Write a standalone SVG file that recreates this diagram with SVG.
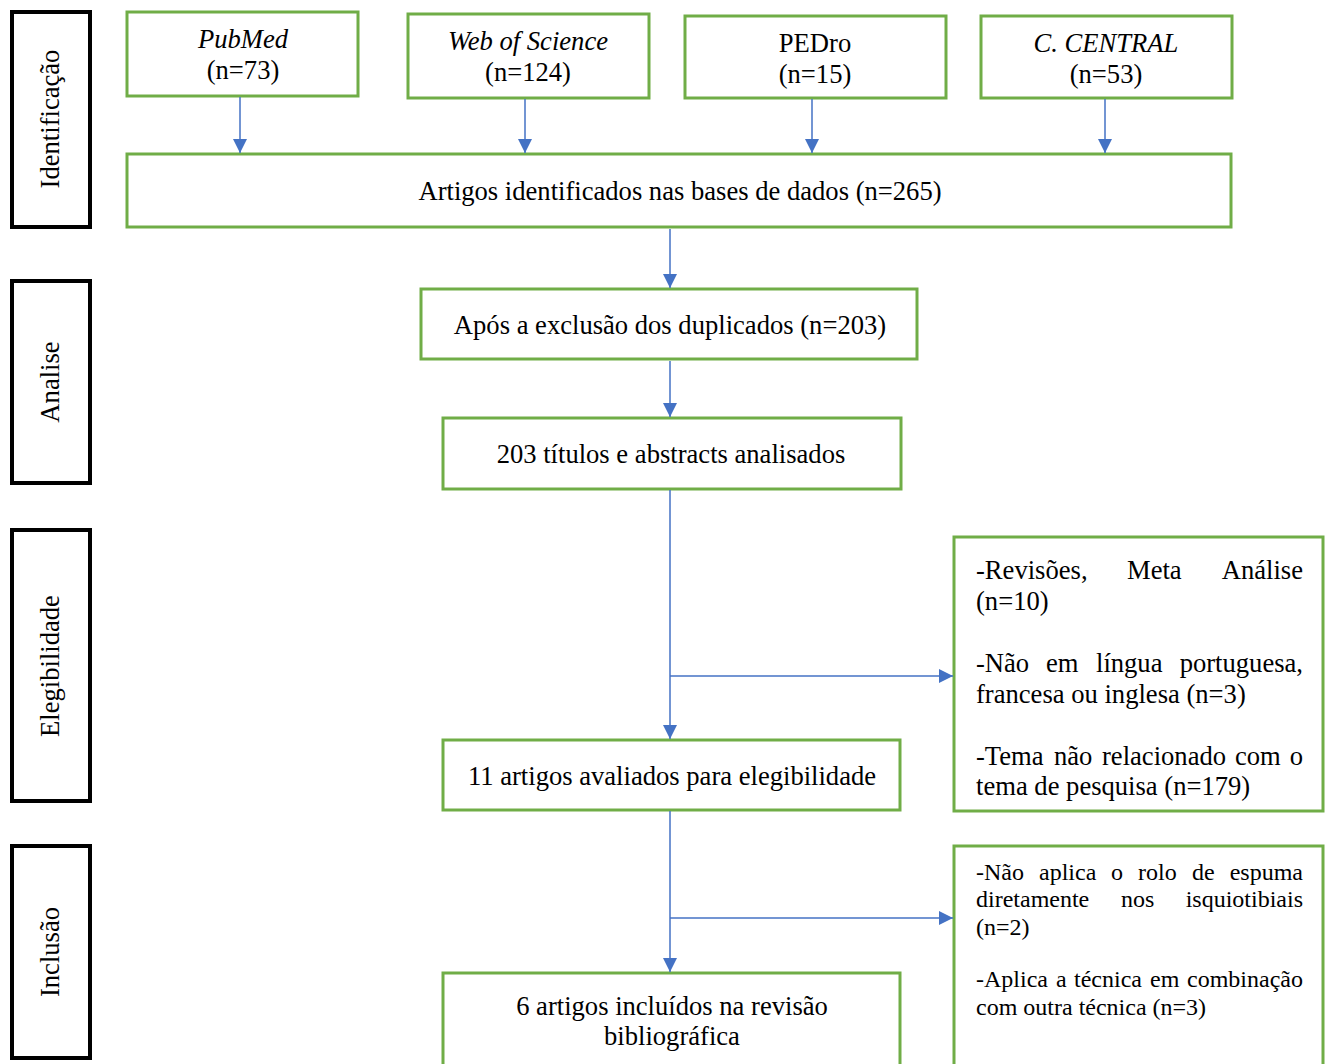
<svg xmlns="http://www.w3.org/2000/svg" width="1330" height="1064" viewBox="0 0 1330 1064">
<style>
text{font-family:"Liberation Serif","Times New Roman",serif;fill:#000;font-size:26.6px}
.c{text-anchor:middle}
.e{text-anchor:end}
.i{font-style:italic}
.s{font-size:24px}
.phase{fill:#fff;stroke:#000;stroke-width:4}
.box{fill:#fff;stroke:#70AD47;stroke-width:3}
.conn line{stroke:#4472C4;stroke-width:1.5}
</style>
<defs>
<marker id="ah" viewBox="0 0 10 10" refX="10" refY="5" markerWidth="14" markerHeight="14" markerUnits="userSpaceOnUse" orient="auto">
<path d="M0,0 L10,5 L0,10 z" fill="#4472C4"/>
</marker>
</defs>
<rect width="1330" height="1064" fill="#fff"/>

<g id="phase-identificacao"><rect class="phase" x="12" y="12" width="78" height="215"/><text class="c" transform="translate(59,119) rotate(-90)">Identificação</text></g>
<g id="phase-analise"><rect class="phase" x="12" y="281" width="78" height="202"/><text class="c" transform="translate(59,382) rotate(-90)">Analise</text></g>
<g id="phase-elegibilidade"><rect class="phase" x="12" y="530" width="78" height="271"/><text class="c" transform="translate(59,666) rotate(-90)">Elegibilidade</text></g>
<g id="phase-inclusao"><rect class="phase" x="12" y="846" width="78" height="212"/><text class="c" transform="translate(59,952) rotate(-90)">Inclusão</text></g>

<g id="pubmed"><rect class="box" x="127" y="12" width="231" height="84"/><text class="c i" x="243" y="48">PubMed</text><text class="c" x="243" y="79">(n=73)</text></g>
<g id="wos"><rect class="box" x="408" y="14" width="241" height="84"/><text class="c i" x="528" y="50">Web of Science</text><text class="c" x="528" y="81">(n=124)</text></g>
<g id="pedro"><rect class="box" x="685" y="16" width="261" height="82"/><text class="c" x="815" y="52">PEDro</text><text class="c" x="815" y="83">(n=15)</text></g>
<g id="central"><rect class="box" x="981" y="16" width="251" height="82"/><text class="c i" x="1106" y="52">C. CENTRAL</text><text class="c" x="1106" y="83">(n=53)</text></g>

<g id="identificados"><rect class="box" x="127" y="154" width="1104" height="73"/><text class="c" x="680" y="200">Artigos identificados nas bases de dados (n=265)</text></g>
<g id="duplicados"><rect class="box" x="421" y="289" width="496" height="70"/><text class="c" x="670" y="334">Após a exclusão dos duplicados (n=203)</text></g>
<g id="titulos"><rect class="box" x="443" y="418" width="458" height="71"/><text class="c" x="671" y="463">203 títulos e abstracts analisados</text></g>
<g id="elegibilidade"><rect class="box" x="443" y="740" width="457" height="70"/><text class="c" x="672" y="785">11 artigos avaliados para elegibilidade</text></g>
<g id="incluidos"><rect class="box" x="443" y="973" width="457" height="100"/><text class="c" x="672" y="1015">6 artigos incluídos na revisão</text><text class="c" x="672" y="1045">bibliográfica</text></g>

<g id="exclusao1"><rect class="box" x="954" y="537" width="369" height="274"/>
<text x="976" y="579">-Revisões,</text><text x="1127" y="579">Meta</text><text class="e" x="1303" y="579">Análise</text>
<text x="976" y="610">(n=10)</text>
<text x="976" y="672">-Não</text><text x="1046" y="672">em</text><text x="1096" y="672">língua</text><text class="e" x="1303" y="672">portuguesa,</text>
<text x="976" y="703">francesa ou inglesa (n=3)</text>
<text x="976" y="765">-Tema</text><text x="1054" y="765">não</text><text x="1102" y="765">relacionado</text><text x="1235" y="765">com</text><text class="e" x="1303" y="765">o</text>
<text x="976" y="795">tema de pesquisa (n=179)</text>
</g>

<g id="exclusao2"><rect class="box" x="954" y="846" width="369" height="230"/>
<text class="s" x="976" y="880">-Não</text><text class="s" x="1039" y="880">aplica</text><text class="s" x="1111" y="880">o</text><text class="s" x="1138" y="880">rolo</text><text class="s" x="1192" y="880">de</text><text class="s e" x="1303" y="880">espuma</text>
<text class="s" x="976" y="907">diretamente</text><text class="s" x="1121" y="907">nos</text><text class="s e" x="1303" y="907">isquiotibiais</text>
<text class="s" x="976" y="935">(n=2)</text>
<text class="s" x="976" y="987">-Aplica</text><text class="s" x="1056" y="987">a</text><text class="s" x="1074" y="987">técnica</text><text class="s" x="1150" y="987">em</text><text class="s e" x="1303" y="987">combinação</text>
<text class="s" x="976" y="1015">com outra técnica (n=3)</text>
</g>

<g id="connectors" class="conn">
<line x1="240" y1="97" x2="240" y2="153" marker-end="url(#ah)"/>
<line x1="525" y1="99" x2="525" y2="153" marker-end="url(#ah)"/>
<line x1="812" y1="99" x2="812" y2="153" marker-end="url(#ah)"/>
<line x1="1105" y1="99" x2="1105" y2="153" marker-end="url(#ah)"/>
<line x1="670" y1="229" x2="670" y2="288" marker-end="url(#ah)"/>
<line x1="670" y1="361" x2="670" y2="417" marker-end="url(#ah)"/>
<line x1="670" y1="490" x2="670" y2="739" marker-end="url(#ah)"/>
<line x1="670" y1="676" x2="953" y2="676" marker-end="url(#ah)"/>
<line x1="670" y1="811" x2="670" y2="972" marker-end="url(#ah)"/>
<line x1="670" y1="918" x2="953" y2="918" marker-end="url(#ah)"/>
</g>
</svg>
